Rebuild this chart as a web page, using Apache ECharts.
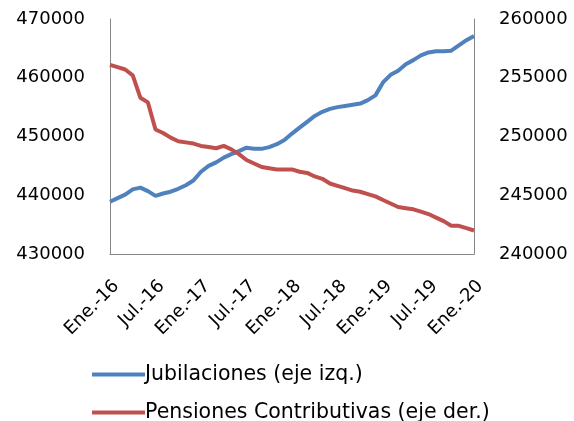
<!DOCTYPE html>
<html>
<head>
<meta charset="utf-8">
<script src="https://cdn.jsdelivr.net/npm/echarts@6/dist/echarts.min.js"></script>
<style>
  html, body { margin: 0; padding: 0; background: #fff; }
  #chart { width: 574px; height: 421px; }
</style>
</head>
<body>
<div id="chart"></div>
<script>
// meses Ene.-16 ... Ene.-20
const categories = [
  'Ene.-16', 'Feb.-16', 'Mar.-16', 'Abr.-16', 'May.-16', 'Jun.-16', 'Jul.-16', 'Ago.-16', 'Sep.-16', 'Oct.-16', 'Nov.-16', 'Dic.-16',
  'Ene.-17', 'Feb.-17', 'Mar.-17', 'Abr.-17', 'May.-17', 'Jun.-17', 'Jul.-17', 'Ago.-17', 'Sep.-17', 'Oct.-17', 'Nov.-17', 'Dic.-17',
  'Ene.-18', 'Feb.-18', 'Mar.-18', 'Abr.-18', 'May.-18', 'Jun.-18', 'Jul.-18', 'Ago.-18', 'Sep.-18', 'Oct.-18', 'Nov.-18', 'Dic.-18',
  'Ene.-19', 'Feb.-19', 'Mar.-19', 'Abr.-19', 'May.-19', 'Jun.-19', 'Jul.-19', 'Ago.-19', 'Sep.-19', 'Oct.-19', 'Nov.-19', 'Dic.-19',
  'Ene.-20'
]
const jubilaciones = [
  438900, 439500, 440100, 441000, 441300, 440700, 439900, 440300, 440600, 441100, 441700, 442500,
  444000, 445000, 445600, 446400, 447000, 447500, 448100, 447900, 447900, 448200, 448700, 449400,
  450500, 451500, 452500, 453500, 454200, 454700, 455000, 455200, 455400, 455600, 456200, 457000,
  459200, 460500, 461200, 462300, 463000, 463800, 464300, 464500, 464500, 464600, 465500, 466400,
  467100
]
const pensiones = [
  256100, 255900, 255700, 255200, 253300, 252900, 250600, 250300, 249900, 249600, 249500, 249400,
  249200, 249100, 249000, 249200, 248900, 248500, 248000, 247700, 247400, 247300, 247200, 247200,
  247200, 247000, 246900, 246600, 246400, 246000, 245800, 245600, 245400, 245300, 245100, 244900,
  244600, 244300, 244000, 243900, 243800, 243600, 243400, 243100, 242800, 242400, 242400, 242200,
  242000
]
const seriesNames = ['Jubilaciones (eje izq.)', 'Pensiones Contributivas (eje der.)']
const leftTicks = { min: 430000, max: 470000, interval: 10000 }
const rightTicks = { min: 240000, max: 260000, interval: 5000 }

const FONT = 'DejaVu Sans'
const chart = echarts.init(document.getElementById('chart'))

const yAxisCommon = {
  type: 'value',
  splitLine: { show: false },
  axisTick: { show: false },
  axisLine: { show: true, lineStyle: { color: '#868686', width: 1 } },
  axisLabel: {
    color: '#000',
    fontFamily: FONT,
    fontSize: 18,
    margin: 25,
    formatter: function (v) { return String(v) }
  }
}

const legendCommon = {
  orient: 'vertical',
  left: 87,
  icon: 'rect',
  itemWidth: 53,
  itemHeight: 4,
  itemGap: 4,
  textStyle: { color: '#000', fontFamily: FONT, fontSize: 20.5, padding: [0, 0, 0, -5] }
}

chart.setOption({
  animation: false,
  backgroundColor: '#fff',
  grid: { left: 110, right: 100, top: 19, bottom: 167, containLabel: false },
  legend: [
    Object.assign({}, legendCommon, { top: 359, data: [seriesNames[0]] }),
    Object.assign({}, legendCommon, { top: 397, data: [seriesNames[1]] })
  ],
  xAxis: {
    type: 'category',
    data: categories,
    boundaryGap: false,
    axisLine: { lineStyle: { color: '#868686', width: 1 } },
    axisTick: { show: false },
    axisLabel: {
      interval: 5,
      rotate: 45,
      color: '#000',
      fontFamily: FONT,
      fontSize: 18,
      verticalAlign: 'top',
      margin: 23
    }
  },
  yAxis: [
    Object.assign({}, yAxisCommon, leftTicks, { position: 'left' }),
    Object.assign({}, yAxisCommon, rightTicks, { position: 'right' })
  ],
  series: [
    {
      name: seriesNames[0],
      type: 'line',
      yAxisIndex: 0,
      data: jubilaciones,
      showSymbol: false,
      color: '#4F81BD',
      lineStyle: { width: 4, color: '#4F81BD' }
    },
    {
      name: seriesNames[1],
      type: 'line',
      yAxisIndex: 1,
      data: pensiones,
      showSymbol: false,
      color: '#C0504D',
      lineStyle: { width: 4, color: '#C0504D' }
    }
  ]
})
</script>
</body>
</html>
